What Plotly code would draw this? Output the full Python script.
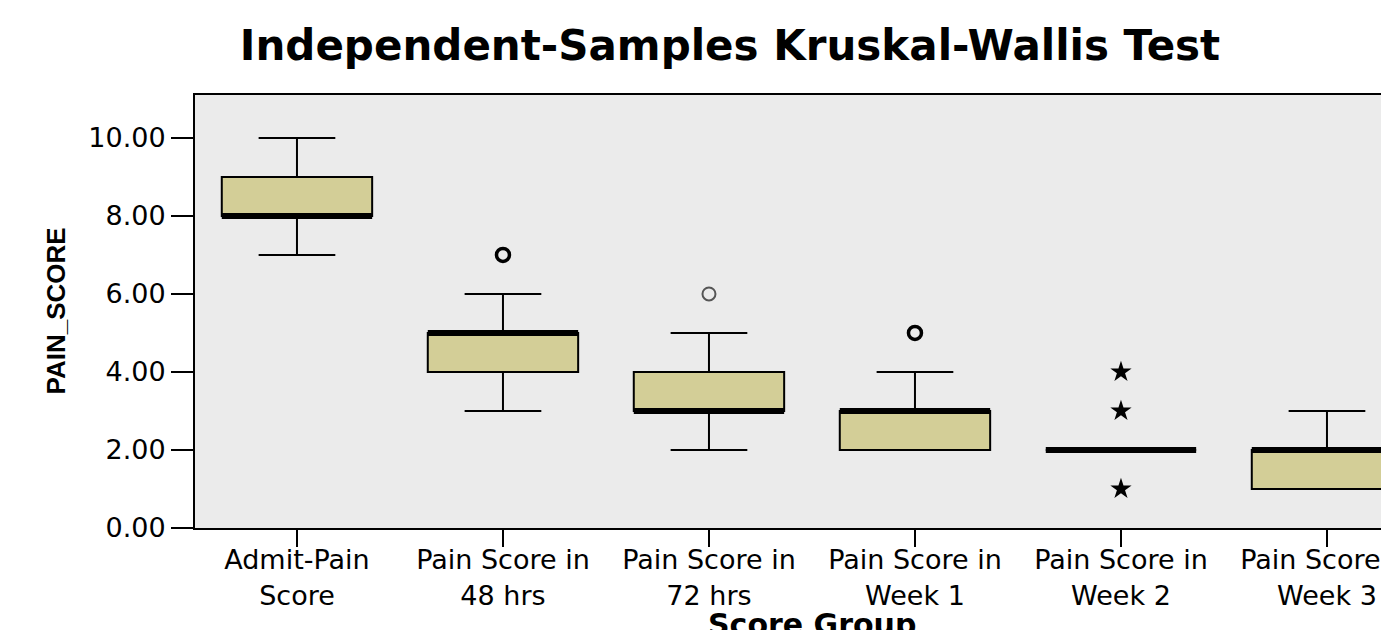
import plotly.graph_objects as go

# ---- data ----
categories = ["Admit-Pain<br>Score", "Pain Score in<br>48 hrs", "Pain Score in<br>72 hrs",
              "Pain Score in<br>Week 1", "Pain Score in<br>Week 2", "Pain Score in<br>Week 3"]
q1 = [8, 4, 3, 2, 2, 1]
median = [8, 5, 3, 3, 2, 2]
q3 = [9, 5, 4, 3, 2, 2]
lower_whisker = [7, 3, 2, 2, 2, 1]
upper_whisker = [10, 6, 5, 4, 2, 3]

# outliers (circles) and extreme values (stars): (group index, value)
outlier_group = [1, 2, 3]
outlier_value = [7, 6, 5]
outlier_bold = [True, False, True]
extreme_group = [4, 4, 4]
extreme_value = [4, 3, 1]

y_ticks = [0, 2, 4, 6, 8, 10]

# ---- style ----
BOX_W = 0.73
FILL = "#D3CE97"
BG = "#EBEBEB"
FW, FH = 1381, 622
ML, MT, MB = 187, 87, 102
PW, PH = FW - ML, FH - MT - MB

xpos = list(range(len(categories)))

fig = go.Figure()

fig.add_trace(go.Box(
    x=xpos, q1=q1, median=median, q3=q3,
    lowerfence=lower_whisker, upperfence=upper_whisker,
    width=BOX_W, whiskerwidth=0.51,
    fillcolor=FILL, line=dict(color="black", width=2),
    boxpoints=False, showlegend=False, hoverinfo="skip",
))

# thick median lines
mx, my = [], []
for i, m in zip(xpos, median):
    mx += [i - BOX_W / 2, i + BOX_W / 2, None]
    my += [m, m, None]
fig.add_trace(go.Scatter(x=mx, y=my, mode="lines",
                         line=dict(color="black", width=6),
                         showlegend=False, hoverinfo="skip"))

# outliers
for g, v, b in zip(outlier_group, outlier_value, outlier_bold):
    col = "black" if b else "#555555"
    fig.add_trace(go.Scatter(
        x=[g], y=[v], mode="markers", showlegend=False, hoverinfo="skip",
        marker=dict(symbol="circle-open", size=13, color=col,
                    line=dict(width=3.5 if b else 2, color=col))))

fig.add_trace(go.Scatter(
    x=extreme_group, y=extreme_value, mode="markers", showlegend=False, hoverinfo="skip",
    marker=dict(symbol="star", size=16, color="black", line=dict(width=0))))

fig.update_layout(
    width=FW, height=FH,
    margin=dict(l=ML, r=0, t=MT, b=MB, autoexpand=False),
    paper_bgcolor="white", plot_bgcolor=BG,
    title=dict(text="Independent-Samples Kruskal-Wallis Test",
               x=722 / FW, xanchor="center", xref="container",
               y=1 - 37 / FH, yanchor="middle", yref="container",
               font=dict(family="DejaVu Sans", size=42, color="black", weight="bold")),
    font=dict(family="DejaVu Sans", color="black"),
)

fig.update_xaxes(
    range=[-0.495, PW / 206 - 0.495], tickmode="array", tickvals=xpos, ticktext=categories,
    ticks="outside", ticklen=17, tickwidth=2, tickcolor="black",
    ticklabeloverflow="allow", ticklabelstandoff=-10, automargin=False,
    showline=True, linecolor="black", linewidth=2, mirror=True,
    showgrid=False, zeroline=False,
    tickfont=dict(family="DejaVu Sans", size=27, color="black"),
)
fig.update_yaxes(
    range=[0, 11.10], tickmode="array", tickvals=y_ticks,
    ticktext=[f"{v:.2f}" for v in y_ticks], automargin=False,
    ticks="outside", ticklen=22, tickwidth=2, tickcolor="black",
    showline=True, linecolor="black", linewidth=2,
    showgrid=False, zeroline=False,
    tickfont=dict(family="DejaVu Sans", size=27, color="black"),
)

fig.add_annotation(text="<b>PAIN_SCORE</b>", textangle=-90,
                   xref="paper", yref="paper", x=-140 / PW, y=0.5,
                   xanchor="center", yanchor="middle", showarrow=False,
                   font=dict(family="Liberation Sans", size=26, color="black"))
fig.add_annotation(text="<b>Score Group</b>",
                   xref="x", yref="paper", x=2.5, y=-(597 - (MT + PH)) / PH,
                   xanchor="center", yanchor="top", showarrow=False,
                   font=dict(family="DejaVu Sans", size=30, color="black"))

fig.write_html("out.html")
